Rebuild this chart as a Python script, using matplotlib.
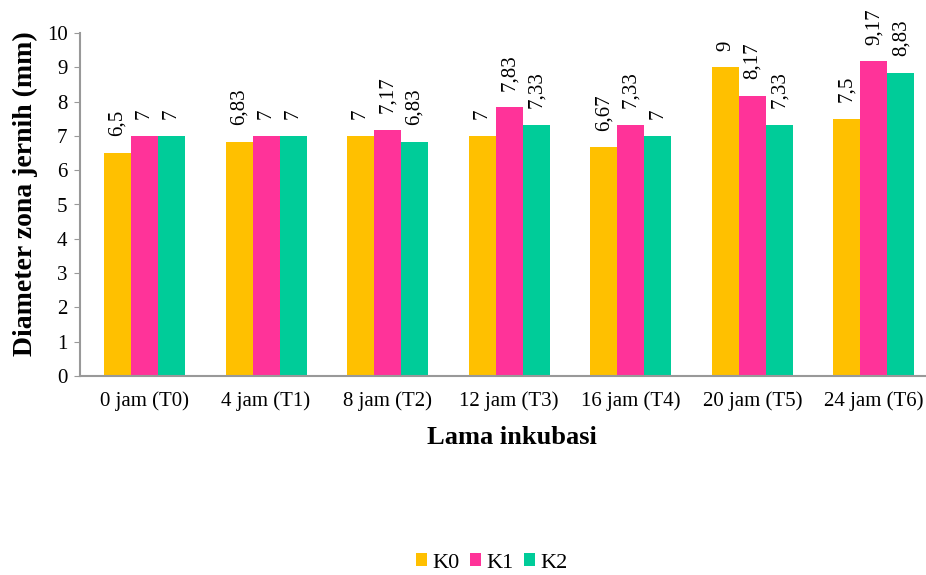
import matplotlib
matplotlib.use("Agg")
import matplotlib.pyplot as plt
import numpy as np

plt.rcParams['font.family'] = ['Liberation Serif', 'DejaVu Serif']

categories = ["0 jam (T0)", "4 jam (T1)", "8 jam (T2)", "12 jam (T3)",
              "16 jam (T4)", "20 jam (T5)", "24 jam (T6)"]
k0 = [6.5, 6.83, 7, 7, 6.67, 9, 7.5]
k1 = [7, 7, 7.17, 7.83, 7.33, 8.17, 9.17]
k2 = [7, 7, 6.83, 7.33, 7, 7.33, 8.83]
series_names = ["K0", "K1", "K2"]
colors = ["#FFC000", "#FF3399", "#00CC99"]

fig = plt.figure(figsize=(9.26, 5.75), dpi=100)
ax = fig.add_axes([80 / 926, 1 - 376 / 575, (926 - 80) / 926, (376 - 33) / 575])

x = np.arange(len(categories))
w = 0.222
for i, (vals, name, c) in enumerate(zip([k0, k1, k2], series_names, colors)):
    pos = x + (i - 1) * w
    ax.bar(pos, vals, width=w, color=c, label=name, edgecolor='none')
    for px, v in zip(pos, vals):
        ax.annotate(f"{v:g}".replace('.', ','), (px, v), xytext=(0, 12),
                    textcoords='offset points', rotation=90,
                    ha='center', va='bottom', fontsize=15)

ax.set_xlim(-0.530, 6.428)
ax.set_ylim(0, 10)
ax.set_yticks(range(0, 11))
ax.set_xticks(x)
ax.set_xticklabels(categories, fontsize=15)
ax.tick_params(axis='y', labelsize=15, length=4, color='#999999', pad=5)
ax.tick_params(axis='x', length=0, pad=11)
for s in ['top', 'right']:
    ax.spines[s].set_visible(False)
for s in ['left', 'bottom']:
    ax.spines[s].set_color('#999999')
    ax.spines[s].set_linewidth(1.5)

ax.set_xlabel("Lama inkubasi", fontsize=19, fontweight='bold')
ax.set_ylabel("Diameter zona jernih (mm)", fontsize=20, fontweight='bold')
ax.xaxis.set_label_coords((512 - 80) / 846, -(437 - 376) / 343)
ax.yaxis.set_label_coords(-(80 - 25) / 846, (376 - 194) / 343)
ax.xaxis.label.set_va('center')
ax.yaxis.label.set_va('center')

handles, labels = ax.get_legend_handles_labels()
fig.legend(handles, labels, loc='center', bbox_to_anchor=(492 / 926, 1 - 563 / 575),
           ncol=3, frameon=False, fontsize=16, handlelength=0.5, handleheight=0.5,
           handletextpad=0.25, columnspacing=0.45)

fig.savefig("out.png", dpi=100)
